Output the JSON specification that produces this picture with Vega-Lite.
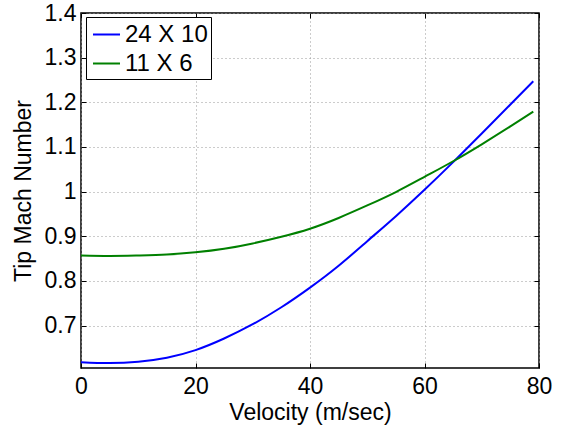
{
  "$schema": "https://vega.github.io/schema/vega-lite/v6.json",
  "width": 458,
  "height": 355,
  "autosize": {"type": "none"},
  "padding": {"left": 81, "top": 13, "right": 24, "bottom": 59},
  "background": "white",
  "config": {
    "view": {"stroke": "black", "strokeWidth": 1.5},
    "font": "Liberation Sans",
    "axis": {
      "labelFont": "Liberation Sans",
      "titleFont": "Liberation Sans",
      "labelFontSize": 23,
      "titleFontSize": 23,
      "titleFontWeight": "normal",
      "labelColor": "black",
      "titleColor": "black",
      "domain": false,
      "tickColor": "black",
      "tickSize": -5,
      "gridColor": "#999999",
      "gridDash": [1, 3],
      "gridWidth": 1
    },
    "legend": {
      "labelFont": "Liberation Sans",
      "labelFontSize": 24,
      "labelColor": "black"
    }
  },
  "data": {
    "values": [
      {"v": 0, "m": 0.618, "s": "24 X 10"},
      {"v": 5, "m": 0.616, "s": "24 X 10"},
      {"v": 10, "m": 0.619, "s": "24 X 10"},
      {"v": 15, "m": 0.628, "s": "24 X 10"},
      {"v": 20, "m": 0.645, "s": "24 X 10"},
      {"v": 25, "m": 0.671, "s": "24 X 10"},
      {"v": 30, "m": 0.703, "s": "24 X 10"},
      {"v": 35, "m": 0.741, "s": "24 X 10"},
      {"v": 40, "m": 0.785, "s": "24 X 10"},
      {"v": 45, "m": 0.834, "s": "24 X 10"},
      {"v": 50, "m": 0.889, "s": "24 X 10"},
      {"v": 55, "m": 0.945, "s": "24 X 10"},
      {"v": 60, "m": 1.004, "s": "24 X 10"},
      {"v": 65, "m": 1.066, "s": "24 X 10"},
      {"v": 70, "m": 1.13, "s": "24 X 10"},
      {"v": 75, "m": 1.195, "s": "24 X 10"},
      {"v": 79, "m": 1.247, "s": "24 X 10"},
      {"v": 0, "m": 0.857, "s": "11 X 6"},
      {"v": 5, "m": 0.856, "s": "11 X 6"},
      {"v": 10, "m": 0.857, "s": "11 X 6"},
      {"v": 15, "m": 0.859, "s": "11 X 6"},
      {"v": 20, "m": 0.864, "s": "11 X 6"},
      {"v": 25, "m": 0.872, "s": "11 X 6"},
      {"v": 30, "m": 0.884, "s": "11 X 6"},
      {"v": 35, "m": 0.899, "s": "11 X 6"},
      {"v": 40, "m": 0.917, "s": "11 X 6"},
      {"v": 45, "m": 0.941, "s": "11 X 6"},
      {"v": 50, "m": 0.969, "s": "11 X 6"},
      {"v": 55, "m": 0.999, "s": "11 X 6"},
      {"v": 60, "m": 1.033, "s": "11 X 6"},
      {"v": 65, "m": 1.068, "s": "11 X 6"},
      {"v": 70, "m": 1.106, "s": "11 X 6"},
      {"v": 75, "m": 1.146, "s": "11 X 6"},
      {"v": 79, "m": 1.179, "s": "11 X 6"}
    ]
  },
  "layer": [
    {
      "mark": {"type": "line", "strokeWidth": 2, "interpolate": "natural"},
      "encoding": {
        "x": {
          "field": "v", "type": "quantitative",
          "scale": {"domain": [0, 80], "nice": false, "zero": false},
          "axis": {"values": [0, 20, 40, 60, 80], "title": "Velocity (m/sec)", "labelPadding": 12, "titlePadding": 3, "labelFlush": false}
        },
        "y": {
          "field": "m", "type": "quantitative",
          "scale": {"domain": [0.605, 1.4], "nice": false, "zero": false},
          "axis": {"values": [0.7, 0.8, 0.9, 1.0, 1.1, 1.2, 1.3, 1.4], "format": "~g", "title": "Tip Mach Number", "labelPadding": 10, "titlePadding": 9, "labelFlush": false}
        },
        "color": {
          "field": "s", "type": "nominal",
          "scale": {"domain": ["24 X 10", "11 X 6"], "range": ["#0000ff", "#008000"]},
          "legend": {
            "title": null,
            "orient": "none",
            "legendX": 5,
            "legendY": 4,
            "symbolType": "stroke",
            "symbolSize": 729,
            "symbolStrokeWidth": 2,
            "symbolOffset": 3,
            "labelOffset": 4,
            "padding": 3,
            "rowPadding": 2,
            "strokeColor": "black",
            "fillColor": "white"
          }
        }
      }
    },
    {
      "mark": {"type": "line", "strokeOpacity": 0},
      "encoding": {
        "x": {"field": "v", "type": "quantitative", "axis": {"orient": "top", "values": [0, 20, 40, 60, 80], "labels": false, "title": null, "grid": false}},
        "y": {"field": "m", "type": "quantitative", "axis": {"orient": "right", "values": [0.7, 0.8, 0.9, 1.0, 1.1, 1.2, 1.3, 1.4], "labels": false, "title": null, "grid": false}},
        "detail": {"field": "s"}
      }
    }
  ],
  "resolve": {"axis": {"x": "independent", "y": "independent"}}
}
